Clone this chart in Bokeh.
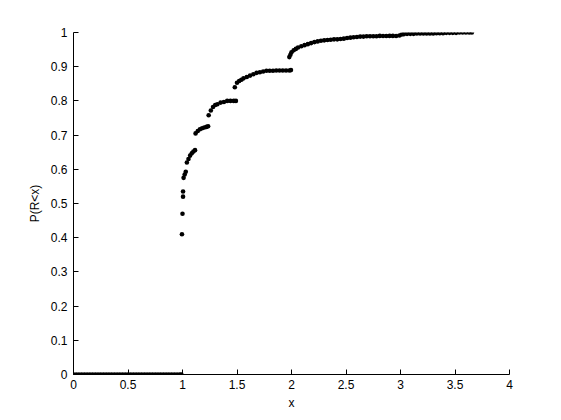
from bokeh.plotting import figure
from bokeh.models import Range1d, FixedTicker, ColumnDataSource
from bokeh.embed import file_html
from bokeh.resources import INLINE

# ---- data ----
x_zero = [0.0, 0.025, 0.05, 0.075, 0.1, 0.125, 0.15, 0.175, 0.2, 0.225, 0.25, 0.275,
          0.3, 0.325, 0.35, 0.375, 0.4, 0.425, 0.45, 0.475, 0.5, 0.525, 0.55, 0.575,
          0.6, 0.625, 0.65, 0.675, 0.7, 0.725, 0.75, 0.775, 0.8, 0.825, 0.85, 0.875,
          0.9, 0.925, 0.95, 0.975, 0.99]
y_zero = [0.0] * len(x_zero)

x_seg1 = [0.995, 1.0, 1.005, 1.005, 1.01, 1.02, 1.03, 1.04,
          1.055, 1.07, 1.085, 1.10, 1.115]
y_seg1 = [0.41, 0.47, 0.52, 0.535, 0.575, 0.585, 0.593, 0.62,
          0.63, 0.64, 0.647, 0.652, 0.656]

x_seg2 = [1.12, 1.14, 1.16, 1.18, 1.20, 1.22, 1.235]
y_seg2 = [0.705, 0.712, 0.717, 0.72, 0.722, 0.724, 0.726]

x_seg3 = [1.24, 1.26, 1.28, 1.30, 1.32, 1.35, 1.38, 1.41, 1.44, 1.47, 1.49]
y_seg3 = [0.758, 0.772, 0.782, 0.788, 0.79, 0.795, 0.797, 0.80, 0.80, 0.80, 0.80]

x_seg4 = [1.48, 1.50, 1.52, 1.54, 1.56, 1.59, 1.62, 1.65, 1.68, 1.71, 1.74, 1.77,
          1.80, 1.83, 1.86, 1.89, 1.92, 1.95, 1.98, 1.995]
y_seg4 = [0.84, 0.853, 0.858, 0.862, 0.866, 0.87, 0.874, 0.878, 0.882, 0.884, 0.886,
          0.888, 0.888, 0.888, 0.889, 0.889, 0.889, 0.889, 0.889, 0.89]

x_seg5 = [1.98, 1.99, 2.00, 2.02, 2.04, 2.06, 2.09, 2.12, 2.15, 2.18, 2.21, 2.24,
          2.27, 2.30, 2.33, 2.36, 2.39, 2.42, 2.45, 2.48, 2.51, 2.54, 2.57, 2.60,
          2.63, 2.66, 2.69, 2.72, 2.75, 2.78, 2.81, 2.84, 2.87, 2.90, 2.93, 2.96, 2.99]
y_seg5 = [0.928, 0.935, 0.942, 0.948, 0.952, 0.956, 0.96, 0.963, 0.966, 0.969, 0.972,
          0.974, 0.976, 0.977, 0.978, 0.979, 0.98, 0.98, 0.981, 0.982, 0.984, 0.985,
          0.986, 0.987, 0.988, 0.988, 0.989, 0.989, 0.989, 0.989, 0.99, 0.99, 0.99,
          0.99, 0.99, 0.99, 0.991]

x_seg6 = [3.01, 3.03, 3.06, 3.09, 3.12, 3.15, 3.18, 3.21, 3.24, 3.27, 3.30, 3.33,
          3.36, 3.39, 3.42, 3.45, 3.48, 3.51, 3.54, 3.57, 3.60, 3.63, 3.655]
y_seg6 = [0.994, 0.995, 0.996, 0.996, 0.996, 0.997, 0.997, 0.997, 0.997, 0.997,
          0.997, 0.998, 0.998, 0.998, 0.999, 0.999, 0.999, 0.999, 1.0, 1.0, 1.0,
          1.0, 1.0]

x_ticks = [0, 0.5, 1, 1.5, 2, 2.5, 3, 3.5, 4]
x_tick_labels = ["0", "0.5", "1", "1.5", "2", "2.5", "3", "3.5", "4"]
y_ticks = [0, 0.1, 0.2, 0.3, 0.4, 0.5, 0.6, 0.7, 0.8, 0.9, 1]
y_tick_labels = ["0", "0.1", "0.2", "0.3", "0.4", "0.5", "0.6", "0.7", "0.8", "0.9", "1"]

xs = x_zero + x_seg1 + x_seg2 + x_seg3 + x_seg4 + x_seg5 + x_seg6
ys = y_zero + y_seg1 + y_seg2 + y_seg3 + y_seg4 + y_seg5 + y_seg6
src = ColumnDataSource(dict(x=xs, y=ys))

FONT = "Liberation Sans"

p = figure(width=561, height=420, output_backend="svg", toolbar_location=None,
           x_range=Range1d(0, 4), y_range=Range1d(0, 1),
           min_border_left=73, min_border_right=52, min_border_top=32,
           min_border_bottom=46)
p.outline_line_color = None
p.background_fill_color = "white"
p.border_fill_color = "white"
p.xgrid.visible = False
p.ygrid.visible = False

p.scatter("x", "y", source=src, marker="circle", size=4.6,
          fill_color="black", line_color=None)

for ax, ticks, labels, lab in ((p.xaxis[0], x_ticks, x_tick_labels, "x"),
                               (p.yaxis[0], y_ticks, y_tick_labels, "P(R<x)")):
    ax.ticker = FixedTicker(ticks=ticks)
    ax.major_label_overrides = {t: l for t, l in zip(ticks, labels)}
    ax.axis_line_color = "black"
    ax.axis_line_width = 1
    ax.major_tick_line_color = "black"
    ax.major_tick_in = 5
    ax.major_tick_out = 0
    ax.minor_tick_line_color = None
    ax.major_label_text_font = FONT
    ax.major_label_text_font_size = "12px"
    ax.major_label_text_color = "black"
    ax.axis_label = lab
    ax.axis_label_text_font = FONT
    ax.axis_label_text_font_size = "12px"
    ax.axis_label_text_font_style = "normal"
    ax.axis_label_text_color = "black"

p.xaxis.major_label_standoff = 5
p.xaxis.axis_label_standoff = 4
p.yaxis.major_label_standoff = 6
p.yaxis.axis_label_standoff = 6

open("out.html", "w").write(file_html(p, INLINE))
